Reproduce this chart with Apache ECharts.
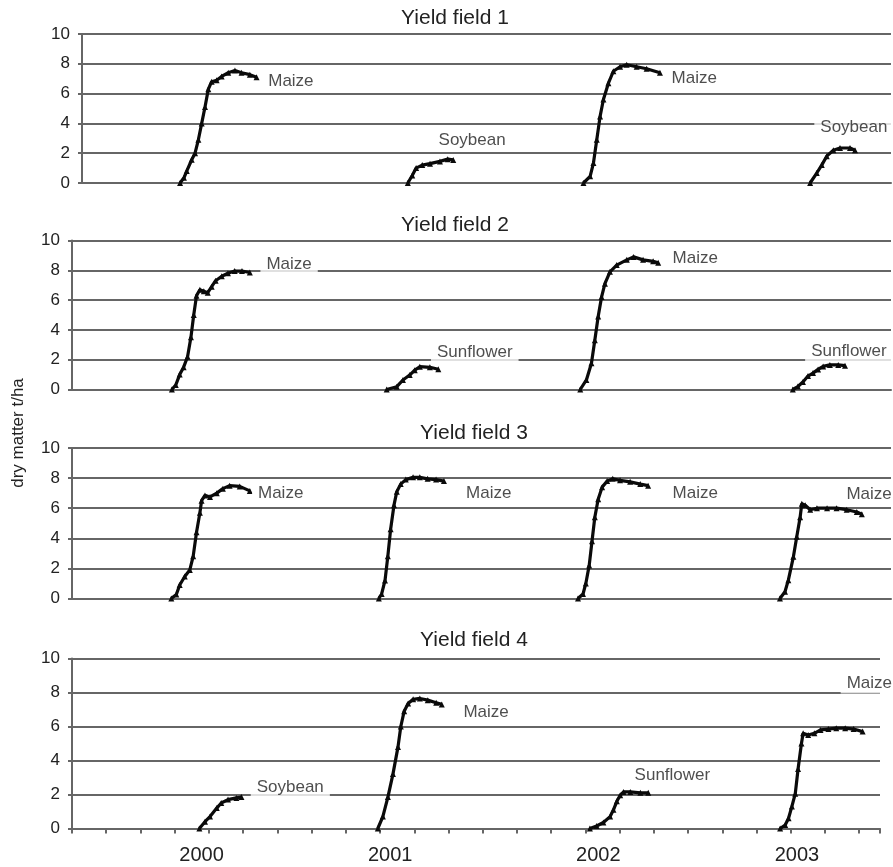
<!DOCTYPE html>
<html><head><meta charset="utf-8">
<script src="https://cdn.jsdelivr.net/npm/echarts@6/dist/echarts.min.js"></script>
<style>html,body{margin:0;padding:0;background:#fff}#c{width:893px;height:867px}</style>
</head><body><div id="c"></div>
<script>
// x values: days since the start of the time axis (about mid-May 1999); y: dry matter t/ha
const yTicks = [0, 2, 4, 6, 8, 10];
const yearLabelDays = [231, 567, 938, 1292];
const yearLabels = ['2000', '2001', '2002', '2003'];
const panelTitles = ['Yield field 1', 'Yield field 2', 'Yield field 3', 'Yield field 4'];

// Field 1
const f1Maize2000Day = [177, 184, 189, 198, 204, 210, 216, 222, 228, 234, 243, 252, 264, 276, 288, 303, 315];
const f1Maize2000Yld = [0, 0.35, 0.8, 1.56, 2.0, 2.9, 4.0, 5.1, 6.3, 6.8, 6.9, 7.15, 7.4, 7.55, 7.4, 7.27, 7.1];
const f1Soy2001Day = [588, 596, 603, 614, 628, 646, 660, 670];
const f1Soy2001Yld = [0, 0.5, 1.0, 1.2, 1.3, 1.45, 1.6, 1.55];
const f1Maize2002Day = [905, 917, 923, 929, 935, 941, 950, 959, 971, 983, 1001, 1019, 1043];
const f1Maize2002Yld = [0, 0.45, 1.34, 2.9, 4.47, 5.6, 6.7, 7.5, 7.8, 7.94, 7.8, 7.67, 7.4];
const f1Soy2003Day = [1314, 1326, 1335, 1344, 1356, 1368, 1386, 1395];
const f1Soy2003Yld = [0, 0.67, 1.2, 1.8, 2.2, 2.35, 2.35, 2.2];
const f1LabelText = ['Maize', 'Soybean', 'Maize', 'Soybean'];
const f1LabelDay = [377, 704, 1105, 1393];
const f1LabelYld = [6.8, 2.84, 7.05, 3.73];

// Field 2
const f2Maize2000Day = [178, 185, 192, 199, 206, 212, 217, 222, 228, 235, 242, 249, 256, 267, 278, 290, 303, 317];
const f2Maize2000Yld = [0, 0.3, 1.0, 1.5, 2.2, 3.5, 5.0, 6.3, 6.7, 6.6, 6.5, 6.9, 7.3, 7.6, 7.8, 7.95, 7.95, 7.85];
const f2Sun2001Day = [561, 579, 590, 602, 611, 620, 638, 653];
const f2Sun2001Yld = [0, 0.19, 0.64, 0.97, 1.3, 1.53, 1.49, 1.36];
const f2Maize2002Day = [906, 917, 926, 932, 938, 944, 950, 959, 971, 989, 1001, 1018, 1036, 1045];
const f2Maize2002Yld = [0, 0.64, 1.76, 3.3, 4.9, 6.2, 7.1, 7.9, 8.35, 8.7, 8.9, 8.7, 8.6, 8.5];
const f2Sun2003Day = [1285, 1294, 1303, 1312, 1321, 1330, 1339, 1351, 1366, 1378];
const f2Sun2003Yld = [0, 0.2, 0.5, 0.9, 1.1, 1.35, 1.55, 1.65, 1.65, 1.6];
const f2LabelText = ['Maize', 'Sunflower', 'Maize', 'Sunflower'];
const f2LabelDay = [387, 718, 1111, 1385];
const f2LabelYld = [8.42, 2.52, 8.83, 2.58];

// Field 3
const f3Maize2000Day = [177, 186, 192, 201, 210, 216, 222, 228, 231, 237, 246, 258, 269, 281, 299, 317];
const f3Maize2000Yld = [0, 0.26, 0.9, 1.46, 1.9, 2.8, 4.4, 5.7, 6.5, 6.85, 6.75, 7.0, 7.3, 7.5, 7.45, 7.15];
const f3Maize2001Day = [547, 552, 558, 563, 568, 574, 579, 586, 595, 608, 620, 634, 649, 663];
const f3Maize2001Yld = [0, 0.3, 1.2, 2.8, 4.6, 6.2, 7.1, 7.6, 7.9, 8.05, 8.05, 7.95, 7.9, 7.8];
const f3Maize2002Day = [902, 911, 916, 922, 927, 932, 938, 945, 954, 964, 977, 995, 1013, 1027];
const f3Maize2002Yld = [0, 0.3, 1.0, 2.2, 3.8, 5.4, 6.6, 7.4, 7.8, 7.95, 7.85, 7.75, 7.6, 7.5];
const f3Maize2003Day = [1262, 1271, 1277, 1286, 1292, 1298, 1301, 1307, 1316, 1328, 1346, 1363, 1381, 1399, 1408];
const f3Maize2003Yld = [0, 0.45, 1.22, 2.77, 4.1, 5.4, 6.3, 6.2, 5.9, 6.0, 6.0, 6.0, 5.9, 5.75, 5.6];
const f3LabelText = ['Maize', 'Maize', 'Maize', 'Maize'];
const f3LabelDay = [372, 743, 1111, 1421];
const f3LabelYld = [6.99, 6.99, 6.99, 6.9];

// Field 4
const f4Soy2000Day = [227, 237, 246, 258, 266, 278, 293, 302];
const f4Soy2000Yld = [0, 0.4, 0.7, 1.2, 1.5, 1.7, 1.8, 1.85];
const f4Maize2001Day = [545, 554, 563, 572, 581, 586, 592, 599, 608, 620, 634, 649, 659];
const f4Maize2001Yld = [0, 0.7, 1.85, 3.2, 4.8, 6.0, 6.9, 7.35, 7.6, 7.65, 7.55, 7.4, 7.3];
const f4Sun2002Day = [923, 935, 947, 959, 965, 971, 977, 983, 995, 1013, 1027];
const f4Sun2002Yld = [0, 0.15, 0.35, 0.7, 1.1, 1.6, 1.95, 2.15, 2.15, 2.1, 2.1];
const f4Maize2003Day = [1262, 1271, 1277, 1283, 1289, 1294, 1300, 1303, 1312, 1323, 1334, 1348, 1362, 1378, 1393, 1409];
const f4Maize2003Yld = [0, 0.2, 0.6, 1.3, 2.05, 3.5, 5.0, 5.6, 5.5, 5.6, 5.8, 5.85, 5.9, 5.9, 5.85, 5.7];
const f4LabelText = ['Soybean', 'Maize', 'Sunflower', 'Maize'];
const f4LabelDay = [389, 738, 1070, 1421];
const f4LabelYld = [2.44, 6.85, 3.1, 8.56];

const panels = [
  {curves: [[f1Maize2000Day, f1Maize2000Yld], [f1Soy2001Day, f1Soy2001Yld], [f1Maize2002Day, f1Maize2002Yld], [f1Soy2003Day, f1Soy2003Yld]], lt: f1LabelText, ld: f1LabelDay, ly: f1LabelYld},
  {curves: [[f2Maize2000Day, f2Maize2000Yld], [f2Sun2001Day, f2Sun2001Yld], [f2Maize2002Day, f2Maize2002Yld], [f2Sun2003Day, f2Sun2003Yld]], lt: f2LabelText, ld: f2LabelDay, ly: f2LabelYld},
  {curves: [[f3Maize2000Day, f3Maize2000Yld], [f3Maize2001Day, f3Maize2001Yld], [f3Maize2002Day, f3Maize2002Yld], [f3Maize2003Day, f3Maize2003Yld]], lt: f3LabelText, ld: f3LabelDay, ly: f3LabelYld},
  {curves: [[f4Soy2000Day, f4Soy2000Yld], [f4Maize2001Day, f4Maize2001Yld], [f4Sun2002Day, f4Sun2002Yld], [f4Maize2003Day, f4Maize2003Yld]], lt: f4LabelText, ld: f4LabelDay, ly: f4LabelYld}
];

const FONT = '"Liberation Sans", Arial, sans-serif';
const LINE = '#666';
const TEXT = '#222';
const grids = [
  {left: 82, right: 2, top: 34, height: 149},
  {left: 72, right: 2, top: 240.5, height: 149},
  {left: 72, right: 2, top: 448, height: 150.5},
  {left: 72, right: 13, top: 658.5, height: 170}
];
const xMax = [1460, 1460, 1460, 1440];
const titlePos = [[455, 18], [455, 225], [474, 433], [474, 640]];

const xAxes = [], yAxes = [], series = [];
grids.forEach((g, i) => {
  const last = i === 3;
  xAxes.push({
    gridIndex: i, type: 'value', min: 0, max: xMax[i], interval: 61,
    axisLine: {show: true, onZero: false, lineStyle: {color: LINE, width: 2}},
    axisTick: {show: last, length: 5, lineStyle: {color: LINE, width: 2}},
    axisLabel: last ? {
      show: true, customValues: yearLabelDays, margin: 17,
      fontSize: 20, color: TEXT, fontFamily: FONT,
      formatter: v => yearLabels[yearLabelDays.indexOf(v)] || ''
    } : {show: false},
    splitLine: {show: false}
  });
  yAxes.push({
    gridIndex: i, type: 'value', min: yTicks[0], max: yTicks[yTicks.length - 1], interval: 2,
    axisLine: {show: true, lineStyle: {color: LINE, width: 2}},
    axisTick: {show: true, length: 4, lineStyle: {color: LINE, width: 2}},
    axisLabel: {fontSize: 17, color: TEXT, margin: 12, fontFamily: FONT},
    splitLine: {show: true, lineStyle: {color: LINE, width: 2}}
  });
  panels[i].curves.forEach(c => {
    series.push({
      type: 'line', xAxisIndex: i, yAxisIndex: i,
      data: c[0].map((d, k) => [d, c[1][k]]),
      symbol: 'triangle', symbolSize: 6, showSymbol: true,
      itemStyle: {color: '#0a0a0a'},
      lineStyle: {color: '#0a0a0a', width: 3.2},
      silent: true, z: 3
    });
  });
  series.push({
    type: 'scatter', xAxisIndex: i, yAxisIndex: i,
    data: panels[i].lt.map((t, k) => ({name: t, value: [panels[i].ld[k], panels[i].ly[k]]})),
    symbolSize: 0, silent: true, z: 5,
    label: {
      show: true, position: 'inside', formatter: '{b}',
      fontSize: 17, color: TEXT, fontFamily: FONT,
      backgroundColor: '#fff', padding: [2, 6]
    }
  });
});

const graphics = titlePos.map((p, i) => ({
  type: 'text', x: p[0], y: p[1], silent: true,
  style: {text: panelTitles[i], fontSize: 21, fontFamily: FONT, fill: TEXT, align: 'center', verticalAlign: 'middle'}
}));
graphics.push({
  type: 'text', x: 18, y: 433, rotation: Math.PI / 2, silent: true,
  style: {text: 'dry matter t/ha', fontSize: 17, fontFamily: FONT, fill: TEXT, align: 'center', verticalAlign: 'middle'}
});

const chart = echarts.init(document.getElementById('c'));
chart.setOption({
  animation: false,
  backgroundColor: '#fff',
  textStyle: {fontFamily: FONT},
  grid: grids,
  xAxis: xAxes,
  yAxis: yAxes,
  series: series,
  graphic: graphics
});
</script>
</body></html>
